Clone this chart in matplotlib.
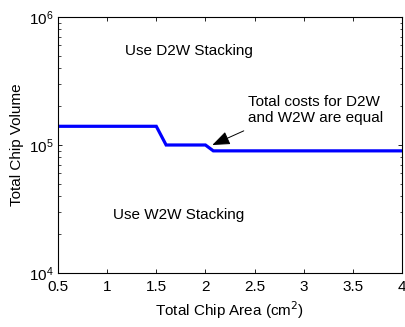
import numpy as np
import matplotlib
matplotlib.use('Agg')
import matplotlib.pyplot as plt

# --- DATA ---
chip_area = [0.5, 1.5, 1.6, 2.0, 2.08, 4.0]
chip_volume = [1.4e5, 1.4e5, 1.0e5, 1.0e5, 9.0e4, 9.0e4]
x_ticks = [0.5, 1, 1.5, 2, 2.5, 3, 3.5, 4]
x_tick_labels = ['0.5', '1', '1.5', '2', '2.5', '3', '3.5', '4']

plt.rcParams['font.family'] = ['Liberation Sans', 'DejaVu Sans']

fig = plt.figure(figsize=(4.06, 3.27), dpi=100)
ax = fig.add_axes([58 / 406, 1 - 273 / 327, (402 - 58) / 406, (273 - 17) / 327])

ax.plot(chip_area, chip_volume, color='#0000ff', linewidth=2.3, solid_joinstyle='miter')
ax.set_yscale('log')
ax.set_xlim(0.5, 4)
ax.set_ylim(1e4, 1e6)
ax.set_xticks(x_ticks)
ax.set_xticklabels(x_tick_labels)

ax.tick_params(which='both', direction='in', top=True, right=True, labelsize=11)
ax.tick_params(axis='x', pad=5)
ax.tick_params(which='major', length=3, width=0.6)
ax.tick_params(which='minor', length=1.8, width=0.5)
for s in ax.spines.values():
    s.set_linewidth(0.8)

ax.set_xlabel('Total Chip Area (cm$^2$)', fontsize=11, labelpad=4)
ax.set_ylabel('Total Chip Volume', fontsize=11, labelpad=3)

ax.text(1.18, 5.4e5, 'Use D2W Stacking', fontsize=11, va='center', ha='left')
ax.text(1.06, 2.84e4, 'Use W2W Stacking', fontsize=11, va='center', ha='left')

ax.text(2.43, 1.87e5, 'Total costs for D2W\nand W2W are equal', fontsize=11,
        ha='left', va='center', linespacing=1.15)
ax.annotate('', xy=(2.07, 1.0e5), xytext=(2.39, 1.29e5),
            arrowprops=dict(arrowstyle='-|>,head_length=0.9,head_width=0.35',
                            color='black', lw=0.7, mutation_scale=12,
                            shrinkA=0, shrinkB=0))

fig.savefig('out.png', dpi=100)
